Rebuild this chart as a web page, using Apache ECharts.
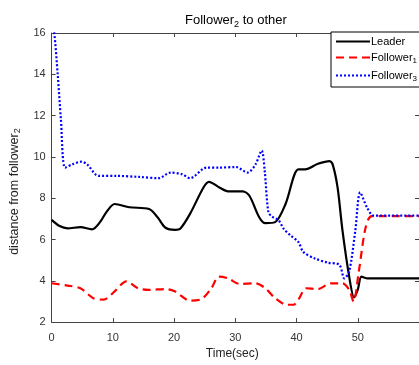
<!DOCTYPE html>
<html>
<head>
<meta charset="utf-8">
<script src="https://cdn.jsdelivr.net/npm/echarts@6/dist/echarts.min.js"></script>
<style>
  html, body { margin: 0; padding: 0; background: #fff; }
  #chart { width: 419px; height: 365px; }
</style>
</head>
<body>
<div id="chart"></div>
<script>
// values
const leaderT = [0, 1.3, 2.6, 4.7, 6.6, 7.9, 9, 10.3, 12.7, 15.9, 17.3, 18.6, 20.2, 21, 22.6, 24.8, 25.7, 27.4, 28.8, 31.2, 32.3, 33.9, 34.9, 36.5, 38.2, 40.3, 41.4, 43.5, 45.4, 45.9, 46.7, 47.5, 48.6, 49.4, 50, 50.6, 51.5, 60];
const leaderV = [6.95, 6.65, 6.54, 6.6, 6.49, 6.84, 7.35, 7.72, 7.56, 7.48, 7.08, 6.57, 6.47, 6.52, 7.24, 8.52, 8.79, 8.52, 8.33, 8.33, 8.12, 7.08, 6.79, 6.84, 7.72, 9.4, 9.4, 9.67, 9.8, 9.64, 8.52, 6.44, 4.2, 3.2, 3.57, 4.2, 4.12, 4.12];

const f1T = [0, 2.6, 4.7, 6.8, 8.5, 10.3, 12.2, 14.1, 15.9, 18.6, 20.1, 22.6, 24.5, 26.1, 27.3, 28.8, 30.7, 33.3, 34.9, 36.5, 38.4, 39.5, 40.3, 41.6, 43.5, 45.6, 47.5, 48.6, 49.3, 50.2, 51.3, 52.3, 60];
const f1V = [3.88, 3.77, 3.64, 3.16, 3.09, 3.49, 3.97, 3.64, 3.56, 3.6, 3.49, 3.04, 3.12, 3.64, 4.2, 4.12, 3.85, 3.88, 3.64, 3.16, 2.84, 2.84, 3.09, 3.64, 3.6, 3.88, 3.88, 3.56, 3.0, 4.52, 6.6, 7.13, 7.13];

const f3T = [0, 0.4, 1, 1.5, 2.2, 3.4, 4.9, 5.8, 7.7, 10.6, 14.3, 17.5, 19.4, 21.3, 22.6, 25.3, 27.4, 30.1, 32, 33.3, 34.3, 34.8, 35.4, 36, 37.1, 37.9, 39, 40.3, 41.1, 43, 45.1, 47, 47.8, 48.6, 49.6, 50.4, 51.5, 52.6, 60];
const f3V = [16.4, 16.06, 13.95, 11.88, 9.48, 9.64, 9.77, 9.64, 9.08, 9.08, 9.03, 8.97, 9.24, 9.16, 8.97, 9.48, 9.48, 9.51, 9.24, 9.64, 10.31, 9.32, 7.32, 7.11, 6.92, 6.52, 6.2, 5.88, 5.4, 5.08, 4.88, 4.77, 4.12, 4.44, 6.44, 8.28, 7.56, 7.16, 7.16];

const seriesNames = ['Leader', 'Follower1', 'Follower3'];

const pairs = (ts, vs) => ts.map((t, i) => [t, vs[i]]);

const font = 'Liberation Sans, Arial, sans-serif';
const axisColor = '#444';

const chart = echarts.init(document.getElementById('chart'));

const valueAxisX = (pos, labels) => ({
  type: 'value',
  position: pos,
  min: 0,
  max: 60,
  interval: 10,
  axisLine: { show: true, onZero: false, lineStyle: { color: axisColor, width: 1 } },
  axisTick: { show: true, inside: true, length: 4, lineStyle: { color: axisColor } },
  axisLabel: { show: labels, color: '#333', fontSize: 11, fontFamily: font, margin: 10, showMaxLabel: false },
  splitLine: { show: false }
});

const valueAxisY = (pos, labels) => ({
  type: 'value',
  position: pos,
  min: 2,
  max: 16,
  interval: 2,
  axisLine: { show: true, onZero: false, lineStyle: { color: axisColor, width: 1 } },
  axisTick: { show: true, inside: true, length: 4, lineStyle: { color: axisColor } },
  axisLabel: { show: labels, color: '#333', fontSize: 11, fontFamily: font, margin: 6 },
  splitLine: { show: false }
});

const xBottom = valueAxisX('bottom', true);
xBottom.name = 'Time(sec)';
xBottom.nameLocation = 'middle';
xBottom.nameGap = 25;
xBottom.nameTextStyle = { color: '#222', fontSize: 12, fontFamily: font, padding: [0, 0, 0, -6] };

const yLeft = valueAxisY('left', true);
yLeft.name = 'distance from follower{s|2}';
yLeft.nameLocation = 'middle';
yLeft.nameGap = 26;
yLeft.nameTextStyle = {
  color: '#222', fontSize: 12.5, fontFamily: font, padding: [0, 28, 0, 0],
  rich: { s: { fontSize: 9, fontFamily: font, color: '#222', padding: [7, 0, 0, 0] } }
};

const option = {
  animation: false,
  backgroundColor: '#fff',
  title: {
    text: 'Follower{s|2} to other',
    left: 180,
    top: 6,
    textStyle: {
      color: '#000', fontSize: 13, fontWeight: 'normal', fontFamily: font,
      rich: { s: { fontSize: 9, fontFamily: font, color: '#000', padding: [9, 0, 0, 0] } }
    }
  },
  legend: {
    orient: 'vertical',
    left: 331,
    top: 32,
    padding: [4, 20, 4, 4],
    itemWidth: 34,
    itemHeight: 10,
    itemGap: 5,
    backgroundColor: '#fff',
    borderColor: '#000',
    borderWidth: 1,
    itemStyle: { opacity: 0 },
    data: seriesNames,
    formatter: n => n === 'Leader' ? n : 'Follower{s|' + n.slice(-1) + '}',
    textStyle: {
      color: '#000', fontSize: 11, fontFamily: font, padding: [0, 0, 0, -4],
      rich: { s: { fontSize: 8, fontFamily: font, color: '#000', padding: [7, 0, 0, 0] } }
    }
  },
  grid: { left: 49, right: -4, top: 33, bottom: 39 },
  xAxis: [xBottom, valueAxisX('top', false)],
  yAxis: [yLeft, valueAxisY('right', false)],
  series: [
    {
      name: seriesNames[0], type: 'line', data: pairs(leaderT, leaderV),
      symbol: 'none', smooth: 0.3,
      lineStyle: { color: '#000', width: 2.2 }, itemStyle: { color: '#000' }
    },
    {
      name: seriesNames[1], type: 'line', data: pairs(f1T, f1V),
      symbol: 'none', smooth: 0.3,
      lineStyle: { color: '#ff0000', width: 2.2, type: [8, 5] }, itemStyle: { color: '#ff0000' }
    },
    {
      name: seriesNames[2], type: 'line', data: pairs(f3T, f3V),
      symbol: 'none', smooth: 0.3,
      lineStyle: { color: '#0000ff', width: 2.2, type: [2, 2] }, itemStyle: { color: '#0000ff' }
    }
  ]
};

chart.setOption(option);
</script>
</body>
</html>
